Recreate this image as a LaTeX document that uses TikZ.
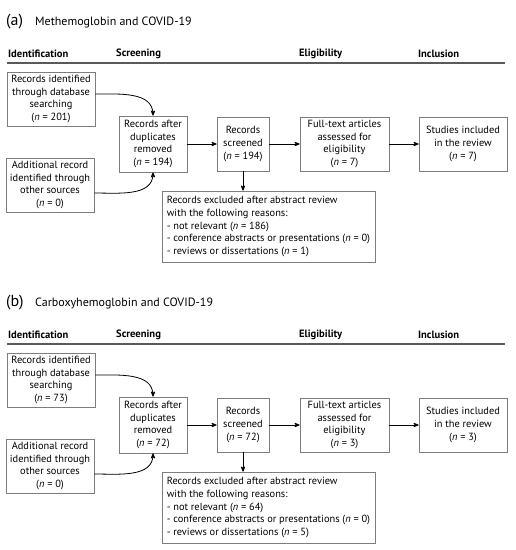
\documentclass[tikz,border=0pt]{standalone}
\usepackage{fontspec}
\setmainfont{PT Sans}
\usepackage{tikz}
\usetikzlibrary{arrows,positioning}
\definecolor{boxgray}{RGB}{125,125,125}
\definecolor{rulegray}{RGB}{90,90,90}
\newcommand{\boxfont}{\fontsize{10.4}{12.6}\selectfont}
\tikzstyle{box}=[draw=boxgray, line width=0.8pt, align=center, inner sep=1pt, font=\boxfont]
\tikzstyle{head}=[anchor=west, inner sep=0pt, font=\fontsize{10.6}{12}\selectfont\bfseries]
\tikzstyle{ttl}=[anchor=base west, inner sep=0pt]
\tikzstyle{flow}=[->, >=stealth', line width=0.8pt]

\begin{document}
\begin{tikzpicture}[x=1pt, y=-1pt]
\useasboundingbox (0,0) rectangle (516,550);
%
% (a) methemoglobin
  \node[ttl, font=\fontsize{16}{16}\selectfont] (atag) at (6,25) {(a)};
  \node[ttl, font=\fontsize{12}{12}\selectfont] (atitle) at (35,25) {Methemoglobin and COVID-19};
  \node[head] (aid) at (8,54) {Identification};
  \node[head] (ascr) at (116,54) {Screening};
  \node[head] (aeli) at (299,54) {Eligibility};
  \node[head] (ainc) at (418,54) {Inclusion};
  \coordinate (arl) at (7,63);
  \coordinate (arr) at (505,63);
  \draw[rulegray, line width=1.4pt] (arl) -- (arr);
%
  \node[box, minimum width=88, minimum height=54] (arec) at (51,99)
    {Records identified\\through database\\searching\\(\textit{n} = 201)};
  \node[box, minimum width=88, minimum height=54] (aadd) at (50,185)
    {Additional record\\identified through\\other sources\\(\textit{n} = 0)};
  \node[box, minimum width=68, minimum height=56] (adup) at (153,144)
    {Records after\\duplicates\\removed\\(\textit{n} = 194)};
  \node[box, minimum width=52, minimum height=54] (ascn) at (243,144)
    {Records\\screened\\(\textit{n} = 194)};
  \node[box, minimum width=89, minimum height=54] (aful) at (344.5,144)
    {Full-text articles\\assessed for\\eligibility\\(\textit{n} = 7)};
  \node[box, minimum width=88, minimum height=54] (astu) at (463,144)
    {Studies included\\in the review\\(\textit{n} = 7)};
  \node[box, minimum width=213, minimum height=71, align=left, inner sep=4pt] (aexc) at (268.5,226.5)
    {Records excluded after abstract review\\with the following reasons:\\- not relevant (\textit{n} = 186)\\- conference abstracts or presentations (\textit{n} = 0)\\- reviews or dissertations (\textit{n} = 1)};
%
  \draw[flow] (arec.east |- 0,94) to[out=0, in=90] (adup.north);
  \draw[flow] (aadd.east |- 0,193) to[out=0, in=-90] (adup.south);
  \draw[flow] (adup) -- (ascn);
  \draw[flow] (ascn) -- (aful);
  \draw[flow] (aful) -- (astu);
  \draw[flow] (ascn) -- (aexc.north -| ascn);
%
% (b) carboxyhemoglobin
\begin{scope}[yshift=-281pt]
  \node[ttl, font=\fontsize{16}{16}\selectfont] (btag) at (6,25) {(b)};
  \node[ttl, font=\fontsize{12}{12}\selectfont] (btitle) at (35,25) {Carboxyhemoglobin and COVID-19};
  \node[head] (bid) at (8,54) {Identification};
  \node[head] (bscr) at (116,54) {Screening};
  \node[head] (beli) at (299,54) {Eligibility};
  \node[head] (binc) at (418,54) {Inclusion};
  \coordinate (brl) at (7,63);
  \coordinate (brr) at (505,63);
  \draw[rulegray, line width=1.4pt] (brl) -- (brr);
%
  \node[box, minimum width=88, minimum height=54] (brec) at (51,99)
    {Records identified\\through database\\searching\\(\textit{n} = 73)};
  \node[box, minimum width=88, minimum height=54] (badd) at (50,185)
    {Additional record\\identified through\\other sources\\(\textit{n} = 0)};
  \node[box, minimum width=68, minimum height=56] (bdup) at (153,144)
    {Records after\\duplicates\\removed\\(\textit{n} = 72)};
  \node[box, minimum width=52, minimum height=54] (bscn) at (243,144)
    {Records\\screened\\(\textit{n} = 72)};
  \node[box, minimum width=89, minimum height=54] (bful) at (344.5,144)
    {Full-text articles\\assessed for\\eligibility\\(\textit{n} = 3)};
  \node[box, minimum width=88, minimum height=54] (bstu) at (463,144)
    {Studies included\\in the review\\(\textit{n} = 3)};
  \node[box, minimum width=213, minimum height=71, align=left, inner sep=4pt] (bexc) at (268.5,226.5)
    {Records excluded after abstract review\\with the following reasons:\\- not relevant (\textit{n} = 64)\\- conference abstracts or presentations (\textit{n} = 0)\\- reviews or dissertations (\textit{n} = 5)};
%
  \draw[flow] (brec.east |- 0,94) to[out=0, in=90] (bdup.north);
  \draw[flow] (badd.east |- 0,193) to[out=0, in=-90] (bdup.south);
  \draw[flow] (bdup) -- (bscn);
  \draw[flow] (bscn) -- (bful);
  \draw[flow] (bful) -- (bstu);
  \draw[flow] (bscn) -- (bexc.north -| bscn);
\end{scope}
\end{tikzpicture}
\end{document}
